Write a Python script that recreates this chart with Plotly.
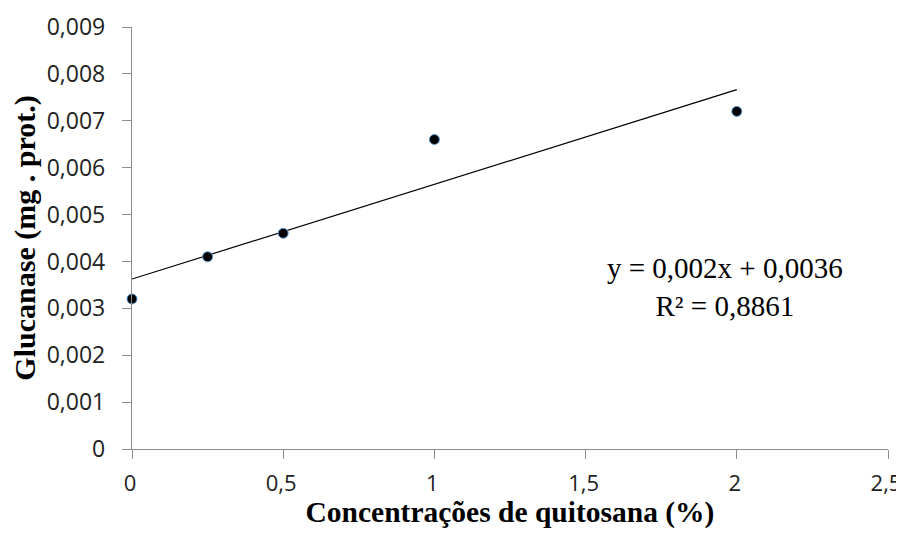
import numpy as np
import plotly.graph_objects as go

conc = [0, 0.25, 0.5, 1, 2]
glucanase = [0.0032, 0.0041, 0.0046, 0.0066, 0.0072]

x_tickvals = [0, 0.5, 1, 1.5, 2, 2.5]
x_ticktext = ["0", "0,5", "1", "1,5", "2", "2,5"]
y_tickvals = [0, 0.001, 0.002, 0.003, 0.004, 0.005, 0.006, 0.007, 0.008, 0.009]
y_ticktext = ["0", "0,001", "0,002", "0,003", "0,004", "0,005", "0,006", "0,007", "0,008", "0,009"]

slope, intercept = np.polyfit(conc, glucanase, 1)
fit_x = [min(conc), max(conc)]
fit_y = [slope * v + intercept for v in fit_x]

fig = go.Figure()
fig.add_trace(go.Scatter(x=fit_x, y=fit_y, mode="lines",
                         line=dict(color="black", width=1.2), showlegend=False,
                         cliponaxis=False))
fig.add_trace(go.Scatter(x=conc, y=glucanase, mode="markers",
                         marker=dict(color="black", size=10,
                                     line=dict(color="#5b9bd5", width=1)),
                         showlegend=False, cliponaxis=False))

fig.add_annotation(x=1.96, y=0.00346, xref="x", yref="y", showarrow=False,
                   text="y = 0,002x + 0,0036<br>R² = 0,8861", align="center",
                   font=dict(family="Liberation Serif", size=29, color="black"),
                   xanchor="center", yanchor="middle")

tickfont = dict(family="Open Sans", size=23, color="#222222")
fig.update_xaxes(range=[0, 2.5], tickvals=x_tickvals, ticktext=x_ticktext,
                 showgrid=False, zeroline=False, showline=True, automargin=False,
                 linecolor="#8c8c8c", linewidth=1.3, ticks="outside",
                 ticklen=9, tickcolor="#8c8c8c",
                 tickfont=dict(family="Open Sans", size=22, color="#222222"),
                 ticklabelstandoff=5, ticklabeloverflow="allow", ticklabelshift=-2,
                 title=dict(text="<b>Concentrações de quitosana (%)</b>",
                            font=dict(family="Liberation Serif", size=29.5, color="black"),
                            standoff=4))
fig.update_yaxes(range=[0, 0.009], tickvals=y_tickvals, ticktext=y_ticktext,
                 showgrid=False, zeroline=False, showline=True, automargin=False,
                 linecolor="#8c8c8c", linewidth=1.3, ticks="outside",
                 ticklen=9, tickcolor="#8c8c8c", tickfont=tickfont,
                 ticklabelstandoff=12, ticklabeloverflow="allow",
                 title=dict(text="<b>Glucanase (mg . prot.)</b>",
                            font=dict(family="Liberation Serif", size=30, color="black"),
                            standoff=8))
fig.update_layout(width=896, height=521, plot_bgcolor="white", paper_bgcolor="white",
                  margin=dict(l=124, r=16, t=19, b=80))
fig.write_html("out.html")
